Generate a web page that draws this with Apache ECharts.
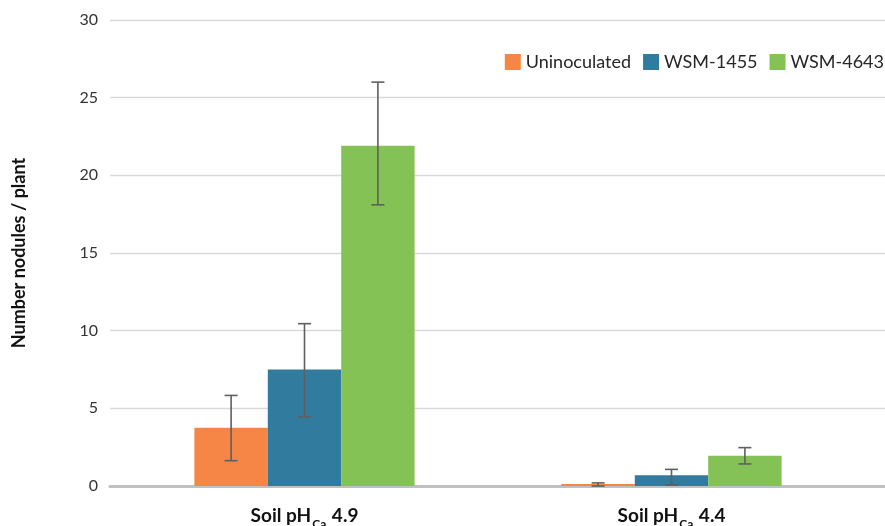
<!DOCTYPE html>
<html>
<head>
<meta charset="utf-8">
<script src="https://cdn.jsdelivr.net/npm/echarts@6/dist/echarts.min.js"></script>
<style>
  html, body { margin: 0; padding: 0; background: #fff; }
  #chart { width: 885px; height: 526px; }
</style>
</head>
<body>
<div id="chart"></div>
<script>
// Soil groups and treatments
const categories = ['4.9', '4.4'];
const seriesNames = ['Uninoculated', 'WSM-1455', 'WSM-4643'];
const colors = ['#F58646', '#317B9E', '#85C255'];

// Mean nodule number per plant
const uninoculated = [3.75, 0.13];
const wsm1455 = [7.5, 0.7];
const wsm4643 = [21.9, 1.95];

// Error bar ends (lower, upper)
const uninoculatedLow = [1.63, -0.05];
const uninoculatedHigh = [5.83, 0.2];
const wsm1455Low = [4.45, 0.05];
const wsm1455High = [10.45, 1.07];
const wsm4643Low = [18.1, 1.42];
const wsm4643High = [26.0, 2.47];

// Y axis ticks
const yMin = 0, yMax = 30, yStep = 5;

const means = [uninoculated, wsm1455, wsm4643];
const lows = [uninoculatedLow, wsm1455Low, wsm4643Low];
const highs = [uninoculatedHigh, wsm1455High, wsm4643High];

const catGapRatio = 0.4;

const chart = echarts.init(document.getElementById('chart'));

const barSeries = seriesNames.map((name, i) => ({
  name: name,
  type: 'bar',
  xAxisIndex: 1,
  yAxisIndex: 1,
  data: means[i],
  barGap: '0%',
  barCategoryGap: (catGapRatio * 100) + '%',
  itemStyle: { color: colors[i] },
  emphasis: { disabled: true },
  z: 2
}));

const errorSeries = seriesNames.map((name, i) => ({
  type: 'custom',
  xAxisIndex: 1,
  yAxisIndex: 1,
  z: 5,
  silent: true,
  data: categories.map((c, j) => [j, lows[i][j], highs[i][j]]),
  encode: { x: 0, y: [1, 2] },
  renderItem: function (params, api) {
    const catW = api.size([1, 0])[0];
    const barW = catW * (1 - catGapRatio) / seriesNames.length;
    const center = api.coord([api.value(0), 0])[0] + (i - 1) * barW;
    const lo = api.coord([api.value(0), Math.max(api.value(1), yMin)])[1];
    const hi = api.coord([api.value(0), api.value(2)])[1];
    const cap = 6.5;
    const style = { stroke: '#5F5F5F', lineWidth: 1.6 };
    return {
      type: 'group',
      children: [
        { type: 'line', shape: { x1: center, y1: lo, x2: center, y2: hi }, style: style },
        { type: 'line', shape: { x1: center - cap, y1: hi, x2: center + cap, y2: hi }, style: style },
        { type: 'line', shape: { x1: center - cap, y1: lo, x2: center + cap, y2: lo }, style: style }
      ]
    };
  }
}));

chart.setOption({
  animation: false,
  textStyle: { fontFamily: 'Lato, "Open Sans", sans-serif' },
  legend: {
    data: seriesNames,
    right: 1,
    top: 53,
    padding: 0,
    itemWidth: 16,
    itemHeight: 16,
    itemGap: 12,
    icon: 'rect',
    textStyle: { fontSize: 18, color: '#262626', fontFamily: 'Lato, sans-serif' }
  },
  grid: [
    { left: 110, right: 0, top: 20, bottom: 40, outerBoundsMode: 'none' },
    { left: 121, right: 30, top: 20, bottom: 40, outerBoundsMode: 'none' }
  ],
  xAxis: [
    {
      gridIndex: 0,
      type: 'category',
      data: [''],
      axisLine: { show: true, lineStyle: { color: '#C0C0C0', width: 3 } },
      axisTick: { show: false },
      axisLabel: { show: false }
    },
    {
      gridIndex: 1,
      type: 'category',
      data: categories,
      axisLine: { show: false },
      axisTick: { show: false },
      axisLabel: {
        margin: 20,
        formatter: v => '{b|Soil pH}{s|Ca}{b| ' + v + '}',
        rich: {
          b: { fontSize: 19, fontWeight: 'bold', color: '#111', fontFamily: 'Lato, sans-serif', verticalAlign: 'top', lineHeight: 24 },
          s: { fontSize: 12, fontWeight: 'bold', color: '#111', fontFamily: 'Lato, sans-serif', verticalAlign: 'bottom', lineHeight: 6, padding: [0, 1, 0, 1] }
        }
      }
    }
  ],
  yAxis: [
    {
      gridIndex: 0,
      type: 'value',
      min: yMin,
      max: yMax,
      interval: yStep,
      name: 'Number nodules / plant',
      nameLocation: 'middle',
      nameGap: 82,
      nameRotate: 90,
      nameTextStyle: { fontSize: 18, fontWeight: 'bold', color: '#111', fontFamily: 'Lato, sans-serif' },
      axisLine: { show: false },
      axisTick: { show: false },
      axisLabel: { fontSize: 16, color: '#333', margin: 12 },
      splitLine: { lineStyle: { color: '#D9D9D9', width: 1.3 } }
    },
    {
      gridIndex: 1,
      type: 'value',
      min: yMin,
      max: yMax,
      interval: yStep,
      show: false,
      splitLine: { show: false }
    }
  ],
  series: barSeries.concat(errorSeries)
});
</script>
</body>
</html>
